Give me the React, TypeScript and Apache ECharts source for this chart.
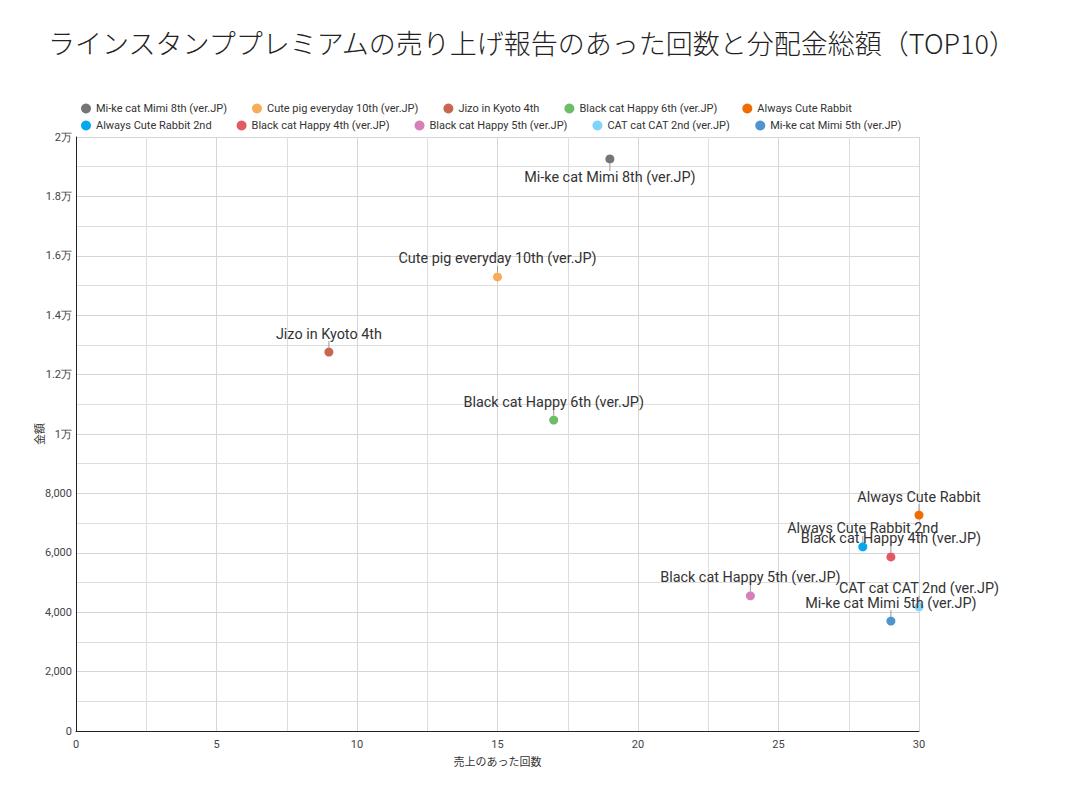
import React, { useEffect, useRef } from "react";
import * as echarts from "echarts";

const titleText = "ラインスタンププレミアムの売り上げ報告のあった回数と分配金総額（TOP10）";
const names = [
  "Mi-ke cat Mimi 8th (ver.JP)",
  "Cute pig everyday 10th (ver.JP)",
  "Jizo in Kyoto 4th",
  "Black cat Happy 6th (ver.JP)",
  "Always Cute Rabbit",
  "Always Cute Rabbit 2nd",
  "Black cat Happy 4th (ver.JP)",
  "Black cat Happy 5th (ver.JP)",
  "CAT cat CAT 2nd (ver.JP)",
  "Mi-ke cat Mimi 5th (ver.JP)",
];
const counts = [19, 15, 9, 17, 30, 28, 29, 24, 30, 29];
const amounts = [19260, 15290, 12760, 10470, 7270, 6200, 5860, 4550, 4180, 3700];
const colors = [
  "#757575", "#f6ad5b", "#c8664f", "#6cbe66", "#ef6c00",
  "#05a8f0", "#e45a64", "#d67fb6", "#80d3f9", "#4f93cf",
];
const labelBelow = [true, false, false, false, false, false, false, false, false, false];

export default function App() {
  const ref = useRef<HTMLDivElement>(null);
  useEffect(() => {
    const chart = echarts.init(ref.current!, undefined, { renderer: "svg" });
    const series = names.map((n, i) => ({
      name: n,
      type: "scatter",
      symbolSize: 9,
      itemStyle: { color: colors[i], opacity: 1 },
      data: [[counts[i], amounts[i]]],
      label: {
        show: true,
        position: "inside",
        formatter: n,
        color: "#333",
        fontSize: 14.4,
        fontFamily: "Roboto",
      },
      labelLayout: { dy: labelBelow[i] ? 19 : -18 },
      labelLine: { show: true, lineStyle: { color: "#999", width: 1 } },
      emphasis: { disabled: true },
    }));
    const legendBase = {
      left: 76,
      itemWidth: 10,
      itemHeight: 10,
      itemGap: 25,
      icon: "circle",
      textStyle: { fontFamily: "Roboto", fontSize: 11, color: "#333" },
    };
    chart.setOption({
      animation: false,
      backgroundColor: "#fff",
      title: {
        text: titleText,
        left: 43,
        top: 24,
        textStyle: {
          fontFamily: "Noto Sans CJK JP",
          fontSize: 27,
          fontWeight: 300,
          color: "#222",
        },
      },
      legend: [
        { ...legendBase, top: 98, data: names.slice(0, 5) },
        { ...legendBase, top: 115, data: names.slice(5, 10) },
      ],
      grid: { left: 76, right: 152, top: 137, bottom: 66, containLabel: false },
      xAxis: {
        type: "value",
        min: 0,
        max: 30,
        interval: 5,
        name: "売上のあった回数",
        nameLocation: "middle",
        nameGap: 24,
        nameTextStyle: { fontFamily: "Noto Sans CJK JP", fontSize: 11, color: "#333" },
        axisLine: { show: true, onZero: false, lineStyle: { color: "#222", width: 1 } },
        axisTick: { show: false },
        axisLabel: { fontFamily: "Roboto", fontSize: 11, color: "#444", margin: 8 },
        splitLine: { show: true, lineStyle: { color: "#d6d6d6" } },
        minorTick: { show: false, splitNumber: 2 },
        minorSplitLine: { show: true, lineStyle: { color: "#dedede" } },
      },
      yAxis: {
        type: "value",
        min: 0,
        max: 20000,
        interval: 2000,
        name: "金額",
        nameLocation: "middle",
        nameGap: 32,
        nameMoveOverlap: false,
        nameRotate: 90,
        nameTextStyle: { fontFamily: "Noto Sans CJK JP", fontSize: 11, color: "#333" },
        axisLine: { show: true, lineStyle: { color: "#222", width: 1 } },
        axisTick: { show: false },
        axisLabel: {
          fontFamily: "Roboto",
          fontSize: 11,
          color: "#444",
          margin: 4,
          formatter: (v: number) =>
            v >= 10000 ? `${Math.round((v / 10000) * 10) / 10}万` : v.toLocaleString("en-US"),
        },
        splitLine: { show: true, lineStyle: { color: "#d6d6d6" } },
        minorTick: { show: false, splitNumber: 2 },
        minorSplitLine: { show: true, lineStyle: { color: "#dedede" } },
      },
      series,
    });
    return () => chart.dispose();
  }, []);
  return (
    <div
      ref={ref}
      style={{ position: "absolute", left: 0, top: 0, width: 1071, height: 797 }}
    />
  );
}
